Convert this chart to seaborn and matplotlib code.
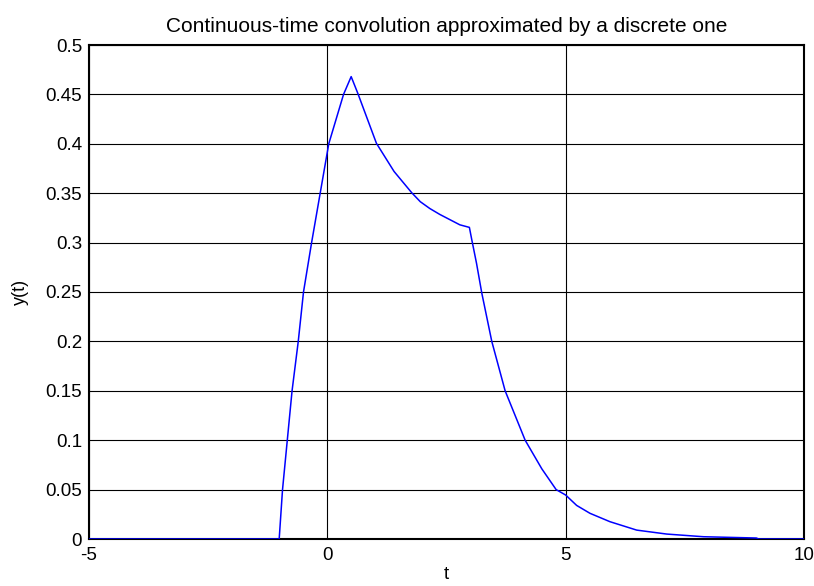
import matplotlib
matplotlib.use("Agg")
import matplotlib.pyplot as plt
import seaborn as sns
import pandas as pd

# values
t_vals = [-5, -1.01, -0.94, -0.84, -0.74, -0.61, -0.50, -0.33, -0.15, 0.03, 0.34,
          0.50, 0.64, 1.03, 1.40, 1.77, 1.95, 2.15, 2.36, 2.78, 2.98, 3.03, 3.13,
          3.24, 3.45, 3.73, 4.15, 4.50, 4.80, 5.00, 5.23, 5.51, 5.93, 6.49, 7.12,
          7.89, 9.00, 9.05, 10]
y_vals = [0, 0, 0.05, 0.10, 0.15, 0.20, 0.25, 0.30, 0.35, 0.40, 0.45,
          0.468, 0.451, 0.4005, 0.372, 0.3505, 0.3414, 0.3345, 0.3285, 0.318, 0.3154, 0.303, 0.279,
          0.249, 0.20, 0.15, 0.10, 0.071, 0.05, 0.0445, 0.034, 0.026, 0.0175, 0.009, 0.005,
          0.0023, 0.001, 0, 0]
x_ticks = [-5, 0, 5, 10]
x_tick_labels = ["-5", "0", "5", "10"]
y_ticks = [0, 0.05, 0.1, 0.15, 0.2, 0.25, 0.3, 0.35, 0.4, 0.45, 0.5]
y_tick_labels = ["0", "0.05", "0.1", "0.15", "0.2", "0.25", "0.3", "0.35", "0.4", "0.45", "0.5"]
title = "Continuous-time convolution approximated by a discrete one"

sns.set_style("white")
plt.rcParams['font.family'] = ['Liberation Sans', 'DejaVu Sans']
plt.rcParams['text.color'] = 'black'
plt.rcParams['axes.labelcolor'] = 'black'
plt.rcParams['xtick.color'] = 'black'
plt.rcParams['ytick.color'] = 'black'

df = pd.DataFrame({"t": t_vals, "y": y_vals})

fig = plt.figure(figsize=(8.14, 5.86), dpi=100)
ax = fig.add_axes([89/814, 47/586, (804-89)/814, (539-45)/586])

sns.lineplot(data=df, x="t", y="y", ax=ax, color="#0000ff", linewidth=1.1,
             estimator=None, sort=False, zorder=3)

ax.set_xlim(-5, 10)
ax.set_ylim(0, 0.5)
ax.set_xticks(x_ticks)
ax.set_xticklabels(x_tick_labels)
ax.set_yticks(y_ticks)
ax.set_yticklabels(y_tick_labels)
ax.grid(True, color="black", linestyle="-", linewidth=0.8)
ax.set_axisbelow(True)
for s in ax.spines.values():
    s.set_visible(True)
    s.set_color("black")
    s.set_linewidth(1.5)
    s.set_zorder(2.5)
ax.tick_params(direction="in", length=0, labelsize=13.5, colors="black")
ax.tick_params(axis="x", pad=6)
ax.tick_params(axis="y", pad=5)
ax.set_xlabel("t", fontsize=13.5, labelpad=1.5, color="black")
ax.set_ylabel("y(t)", fontsize=13, labelpad=12, color="black")
ax.set_title(title, fontsize=15, pad=9, color="black")

fig.savefig("out.png", dpi=100, facecolor="white")
